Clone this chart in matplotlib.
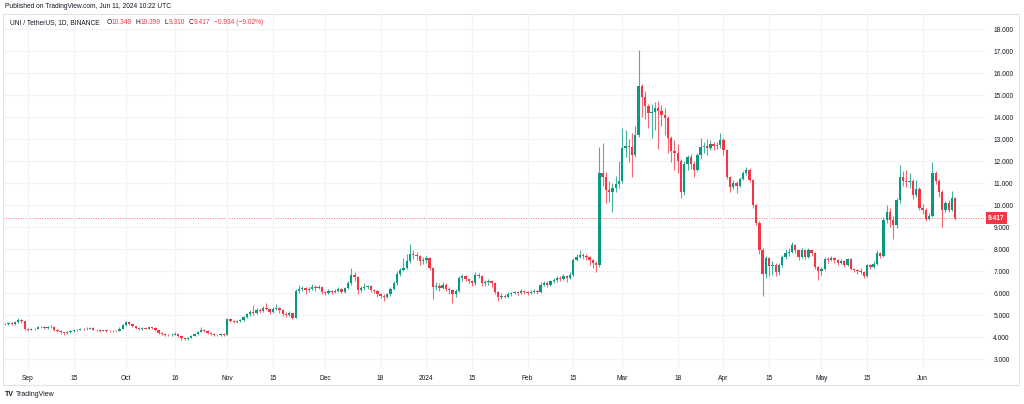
import numpy as np
import pandas as pd
import matplotlib
matplotlib.use("Agg")
import matplotlib.pyplot as plt
import matplotlib.dates as mdates

plt.rcParams['font.family'] = ['Liberation Sans', 'DejaVu Sans']

# UNI/USDT daily, 2023-08-25 .. 2024-06-11
first_open = 4.60
closes = [
    # Aug 25 - 31
    4.62, 4.65, 4.60, 4.68, 4.80, 4.72, 4.40,
    # Sep
    4.35, 4.38, 4.40, 4.45, 4.47, 4.42, 4.46, 4.48, 4.35, 4.30,
    4.22, 4.18, 4.25, 4.28, 4.32, 4.35, 4.38, 4.36, 4.40, 4.42,
    4.35, 4.33, 4.30, 4.32, 4.28, 4.27, 4.30, 4.29, 4.40, 4.55,
    # Oct
    4.68, 4.62, 4.50, 4.42, 4.38, 4.42, 4.40, 4.45, 4.42, 4.32,
    4.20, 4.15, 4.12, 4.10, 4.12, 4.15, 4.05, 3.95, 3.92, 3.98,
    4.08, 4.15, 4.25, 4.35, 4.28, 4.20, 4.15, 4.10, 4.12, 4.15,
    4.12,
    # Nov
    4.82, 4.75, 4.70, 4.72, 4.80, 4.92, 5.05, 5.15, 5.10, 5.25,
    5.20, 5.35, 5.30, 5.15, 5.30, 5.35, 5.25, 5.05, 5.00, 5.10,
    4.88, 6.10, 6.20, 6.25, 6.15, 6.20, 6.30, 6.25, 6.30, 6.05,
    # Dec
    6.00, 6.10, 6.05, 6.10, 6.20, 6.05, 6.25, 6.45, 6.85, 6.75,
    6.15, 6.25, 6.30, 6.35, 6.15, 6.10, 5.95, 5.90, 5.85, 5.95,
    6.20, 6.45, 6.90, 7.05, 7.15, 7.45, 7.80, 7.75, 7.70, 7.45,
    7.50,
    # Jan
    7.60, 7.15, 6.30, 6.35, 6.25, 6.40, 6.20, 6.15, 5.95, 6.10,
    6.70, 6.80, 6.65, 6.55, 6.45, 6.85, 6.80, 6.45, 6.50, 6.55,
    6.45, 6.05, 5.85, 5.90, 5.85, 5.95, 6.00, 6.05, 6.00, 6.10,
    6.05,
    # Feb
    6.00, 6.05, 6.10, 6.05, 6.40, 6.45, 6.40, 6.55, 6.60, 6.70,
    6.65, 6.80, 6.70, 6.85, 7.50, 7.65, 7.75, 7.70, 7.65, 7.50,
    7.40, 7.30, 11.45, 11.30, 10.70, 10.60, 10.80, 10.95, 11.10,
    # Mar
    12.60, 12.70, 12.65, 12.30, 13.20, 15.40, 14.90, 14.50, 14.20, 14.25,
    14.40, 14.30, 14.10, 13.95, 13.05, 12.45, 12.40, 12.00, 10.60, 11.90,
    12.20, 11.90, 11.60, 12.30, 12.65, 12.70, 12.60, 12.80, 12.70, 12.75,
    12.97,
    # Apr
    12.50, 11.30, 10.85, 11.00, 10.90, 11.20, 11.45, 11.60, 11.15, 10.00,
    9.20, 7.97, 6.90, 7.60, 7.25, 7.30, 6.95, 7.30, 7.65, 7.85,
    7.90, 8.20, 7.95, 7.65, 7.95, 7.65, 7.95, 7.85, 7.20, 7.00,
    # May
    7.10, 7.55, 7.50, 7.60, 7.50, 7.40, 7.45, 7.30, 7.55, 7.10,
    7.05, 7.00, 6.95, 6.80, 7.30, 7.20, 7.35, 7.83, 7.70, 9.35,
    9.70, 9.35, 9.10, 10.25, 11.30, 11.10, 11.05, 11.10, 10.47, 10.75,
    9.90,
    # Jun 1 - 11
    9.80, 9.40, 9.50, 11.45, 11.10, 10.60, 9.80, 10.10, 9.80, 10.349,
    9.417,
]
highs = [
    4.66, 4.70, 4.68, 4.72, 4.88, 4.84, 4.75,
    4.44, 4.42, 4.44, 4.50, 4.52, 4.50, 4.50, 4.54, 4.50, 4.38,
    4.33, 4.26, 4.29, 4.32, 4.36, 4.39, 4.43, 4.42, 4.45, 4.47,
    4.45, 4.38, 4.36, 4.35, 4.35, 4.31, 4.34, 4.33, 4.45, 4.60,
    4.75, 4.72, 4.65, 4.53, 4.46, 4.46, 4.45, 4.49, 4.48, 4.45,
    4.34, 4.23, 4.18, 4.16, 4.20, 4.22, 4.18, 4.08, 3.98, 4.02,
    4.12, 4.20, 4.30, 4.48, 4.40, 4.32, 4.26, 4.20, 4.17, 4.20,
    4.18,
    4.90, 4.90, 4.80, 4.78, 4.85, 4.98, 5.12, 5.22, 5.45, 5.32,
    5.35, 5.42, 5.55, 5.35, 5.38, 5.52, 5.40, 5.30, 5.15, 5.18,
    5.12, 6.20, 6.40, 6.35, 6.30, 6.30, 6.42, 6.38, 6.40, 6.35,
    6.12, 6.18, 6.15, 6.18, 6.28, 6.25, 6.30, 6.55, 7.15, 6.95,
    6.80, 6.35, 6.45, 6.40, 6.40, 6.20, 6.15, 6.02, 5.98, 6.00,
    6.28, 6.55, 7.00, 7.15, 7.60, 7.80, 8.25, 7.95, 7.90, 7.75,
    7.65,
    7.70, 7.65, 7.20, 6.50, 6.45, 6.50, 6.45, 6.30, 6.20, 6.20,
    6.80, 6.90, 6.85, 6.70, 6.62, 6.95, 6.92, 6.85, 6.60, 6.65,
    6.60, 6.50, 6.10, 6.00, 5.98, 6.05, 6.08, 6.12, 6.10, 6.18,
    6.15,
    6.12, 6.15, 6.18, 6.15, 6.50, 6.55, 6.55, 6.62, 6.70, 6.78,
    6.80, 6.88, 6.85, 6.95, 7.60, 7.80, 7.95, 7.85, 7.80, 7.70,
    7.55, 7.45, 12.65, 12.85, 11.50, 11.10, 11.00, 11.35, 12.00,
    13.50, 13.40, 13.00, 13.30, 13.60, 17.05, 15.50, 15.20, 14.60, 14.60,
    14.70, 14.75, 14.55, 14.40, 14.05, 13.15, 12.95, 12.80, 12.10, 12.00,
    12.30, 12.35, 12.00, 12.40, 13.05, 12.90, 13.00, 12.95, 12.90, 12.90,
    13.30,
    13.05, 12.55, 11.35, 11.15, 11.10, 11.30, 11.55, 11.75, 11.70, 11.20,
    10.05, 9.30, 8.05, 7.70, 7.65, 7.45, 7.40, 7.40, 7.75, 8.00,
    8.05, 8.35, 8.25, 8.00, 8.05, 8.00, 8.05, 8.00, 7.90, 7.25,
    7.20, 7.65, 7.65, 7.70, 7.65, 7.55, 7.55, 7.50, 7.60, 7.60,
    7.15, 7.10, 7.15, 7.00, 7.35, 7.35, 7.45, 7.95, 7.88, 9.45,
    10.00, 9.90, 9.50, 10.35, 11.85, 11.55, 11.60, 11.45, 11.20, 11.15,
    10.85,
    10.05, 9.90, 9.65, 11.98, 11.55, 11.20, 10.70, 10.20, 10.25, 10.65,
    10.399,
]
lows = [
    4.56, 4.58, 4.55, 4.57, 4.64, 4.66, 4.33,
    4.30, 4.32, 4.35, 4.37, 4.41, 4.38, 4.39, 4.42, 4.30, 4.26,
    4.15, 4.12, 4.15, 4.21, 4.25, 4.29, 4.31, 4.32, 4.33, 4.37,
    4.31, 4.29, 4.26, 4.27, 4.24, 4.23, 4.24, 4.25, 4.27, 4.38,
    4.52, 4.56, 4.45, 4.38, 4.34, 4.35, 4.36, 4.37, 4.38, 4.28,
    4.15, 4.11, 4.08, 4.06, 4.07, 4.09, 4.00, 3.90, 3.86, 3.89,
    3.95, 4.05, 4.12, 4.22, 4.22, 4.15, 4.10, 4.05, 4.06, 4.08,
    4.07,
    4.10, 4.68, 4.63, 4.65, 4.68, 4.76, 4.88, 4.98, 5.02, 5.05,
    5.12, 5.15, 5.22, 5.05, 5.10, 5.25, 5.10, 4.95, 4.92, 4.95,
    4.85, 4.86, 6.00, 6.10, 5.95, 6.05, 6.15, 6.12, 6.18, 5.98,
    5.92, 5.95, 5.98, 6.00, 6.05, 6.00, 6.00, 6.20, 6.40, 6.55,
    5.95, 6.05, 6.15, 6.20, 6.05, 6.00, 5.85, 5.80, 5.65, 5.80,
    5.90, 6.15, 6.40, 6.80, 7.00, 7.10, 7.40, 7.55, 7.50, 7.30,
    7.35,
    7.40, 7.05, 5.75, 6.15, 6.10, 6.20, 6.10, 5.95, 5.55, 5.85,
    6.05, 6.55, 6.55, 6.45, 6.35, 6.40, 6.70, 6.35, 6.35, 6.40,
    6.30, 5.95, 5.65, 5.75, 5.78, 5.80, 5.90, 5.95, 5.92, 5.95,
    5.98,
    5.92, 5.95, 6.00, 5.98, 6.00, 6.32, 6.30, 6.35, 6.45, 6.50,
    6.55, 6.60, 6.50, 6.65, 6.80, 7.45, 7.60, 7.55, 7.50, 7.30,
    7.15, 6.95, 7.20, 10.90, 10.10, 10.15, 9.70, 10.60, 10.80,
    11.00, 12.20, 11.95, 11.30, 12.20, 13.10, 14.00, 13.90, 13.50, 13.05,
    13.40, 12.55, 13.60, 13.20, 12.40, 11.95, 11.60, 11.45, 10.35, 10.45,
    11.60, 11.65, 11.30, 11.55, 12.10, 12.40, 12.30, 12.50, 12.50, 12.55,
    12.60,
    12.30, 11.20, 10.60, 10.75, 10.55, 10.85, 11.15, 11.40, 11.05, 9.90,
    9.10, 7.80, 5.90, 6.70, 6.80, 6.85, 6.80, 6.85, 7.20, 7.55,
    7.70, 7.85, 7.85, 7.50, 7.60, 7.55, 7.60, 7.70, 7.10, 6.60,
    6.85, 7.05, 7.40, 7.45, 7.40, 7.30, 7.32, 7.20, 7.25, 7.05,
    6.98, 6.90, 6.88, 6.70, 6.75, 7.10, 7.15, 7.30, 7.60, 7.65,
    9.20, 9.00, 8.45, 8.95, 10.10, 10.90, 10.85, 10.80, 10.30, 10.40,
    9.80,
    9.60, 9.30, 9.35, 9.45, 10.95, 10.40, 9.00, 9.70, 9.70, 9.75,
    9.31,
]

tick_dates = ["2023-09-01", "2023-09-15", "2023-10-01", "2023-10-16", "2023-11-01",
              "2023-11-15", "2023-12-01", "2023-12-18", "2024-01-01", "2024-01-15",
              "2024-02-01", "2024-02-15", "2024-03-01", "2024-03-18", "2024-04-01",
              "2024-04-15", "2024-05-01", "2024-05-15", "2024-06-01"]
tick_labels = ["Sep", "15", "Oct", "16", "Nov", "15", "Dec", "18", "2024", "15",
               "Feb", "15", "Mar", "18", "Apr", "15", "May", "15", "Jun"]
price_ticks = list(range(3, 19))

UP = "#089981"
DOWN = "#f23645"
TXT = "#131722"

opens = [first_open] + closes[:-1]
dates = pd.date_range("2023-08-25", periods=len(closes), freq="D")
xs = mdates.date2num(dates)
o = np.array(opens)
c = np.array(closes)
h = np.array(highs)
l = np.array(lows)
up = c >= o
cols = np.where(up, UP, DOWN)

fig = plt.figure(figsize=(10.24, 4.04), dpi=100)
W, H = 1024, 404
ax = fig.add_axes([3 / W, 35 / H, 982 / W, 355 / H])

ax.vlines(xs, l, h, colors=cols, lw=0.8, alpha=0.75, zorder=2)
body = np.maximum(np.abs(c - o), 0.015)
ax.bar(xs, body, bottom=np.minimum(o, c), width=0.72, color=cols, lw=0, zorder=3)

base = mdates.date2num(pd.Timestamp("2023-09-01"))
ax.set_xlim(base - 7.66, base + 293.1)
ax.set_ylim(2.56, 18.695)

ax.set_xticks(mdates.date2num(pd.to_datetime(tick_dates)))
ax.set_xticklabels(tick_labels)
ax.yaxis.tick_right()
ax.set_yticks(price_ticks)
ax.set_yticklabels(["%.3f" % p for p in price_ticks])
ax.tick_params(axis="x", length=0, pad=4.5, labelsize=4.8, labelcolor=TXT)
ax.tick_params(axis="y", length=0, pad=6, labelsize=4.8, labelcolor=TXT)
ax.grid(color="#f0f3fa", lw=0.9, zorder=0)
for s in ax.spines.values():
    s.set_visible(False)

# last price line and label
ax.axhline(closes[-1], color=DOWN, lw=0.7, ls=(0, (1, 1.5)), alpha=0.7, zorder=1)
ax.text(1.003, closes[-1], "%.3f" % closes[-1], transform=ax.get_yaxis_transform(),
        ha="left", va="center", fontsize=4.8, color="white", fontweight="bold",
        bbox=dict(boxstyle="square,pad=0.35", fc=DOWN, ec="none"))

# frame
fig.add_artist(plt.Rectangle((3 / W, 19 / H), 1016 / W, 371 / H, fill=False,
                             ec="#e0e3eb", lw=0.8, transform=fig.transFigure))

fig.text(5 / W, 1 - 7 / H, "Published on TradingView.com, Jun 11, 2024 10:22 UTC",
         fontsize=4.8, color=TXT, va="center")

# legend line
r = fig.canvas.get_renderer()
parts = [("UNI / TetherUS, 1D, BINANCE", TXT, 7), ("O", TXT, 0), ("10.349", DOWN, 4),
         ("H", TXT, 0), ("10.399", DOWN, 4), ("L", TXT, 0), ("9.310", DOWN, 4),
         ("C", TXT, 0), ("9.417", DOWN, 4), ("\u22120.934 (\u22129.02%)", DOWN, 0)]
x = 10
for s, col, gap in parts:
    t = fig.text(x / W, 1 - 23 / H, s, fontsize=4.8, color=col, va="center")
    bb = t.get_window_extent(renderer=r)
    x = bb.x1 + gap

fig.text(5 / W, 1 - 395 / H, "TV", fontsize=5, fontweight="bold", color=TXT, va="center")
fig.text(16 / W, 1 - 395 / H, "TradingView", fontsize=5, color=TXT, va="center")

fig.savefig("out.png", dpi=100)
